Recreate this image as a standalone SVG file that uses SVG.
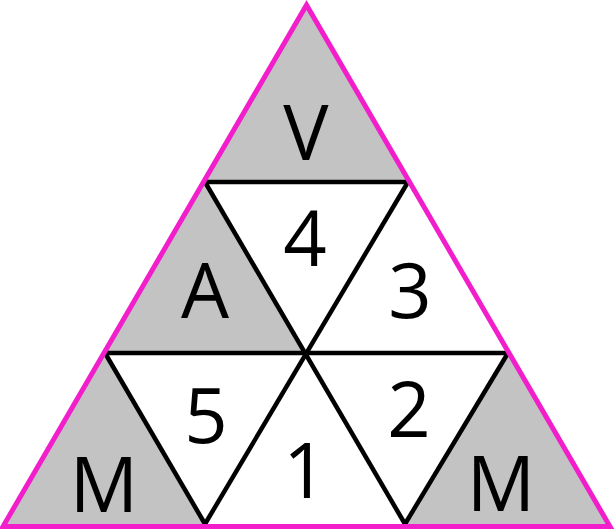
<svg xmlns="http://www.w3.org/2000/svg" width="614" height="532" viewBox="0 0 614 532">
<style>
.g{fill:#c3c3c3;stroke:none}
.w{fill:#ffffff;stroke:none}
.ln{stroke:#000;stroke-width:4.5;fill:none;stroke-linecap:butt}
.t{font-family:"Open Sans","DejaVu Sans",sans-serif;font-size:76px;fill:#000;text-anchor:middle}
</style>
<rect width="614" height="532" fill="#fff"/>
<g id="cell-V"><polygon class="g" points="306.5,7 205,182 408,182"/><text class="t" x="306" y="160">V</text></g>
<g id="cell-4"><polygon class="w" points="205,182 408,182 306.5,353"/><text class="t" x="305" y="266">4</text></g>
<g id="cell-A"><polygon class="g" points="205,182 105,353 306.5,353"/><text class="t" x="205" y="318">A</text></g>
<g id="cell-3"><polygon class="w" points="408,182 306.5,353 508,353"/><text class="t" x="410" y="318">3</text></g>
<g id="cell-M1"><polygon class="g" points="105,353 4,525 205,525"/><text class="t" x="104" y="512">M</text></g>
<g id="cell-5"><polygon class="w" points="105,353 306.5,353 205,524"/><text class="t" x="206" y="443">5</text></g>
<g id="cell-1"><polygon class="w" points="306.5,353 205,524 405,524"/><text class="t" x="305" y="498">1</text></g>
<g id="cell-2"><polygon class="w" points="306.5,353 508,353 405,524"/><text class="t" x="409" y="437">2</text></g>
<g id="cell-M2"><polygon class="g" points="508,353 405,525 609,525"/><text class="t" x="501" y="511">M</text></g>
<g id="connectors">
<line class="ln" x1="205" y1="182" x2="408" y2="182"/>
<line class="ln" x1="105" y1="353" x2="508" y2="353"/>
<line class="ln" x1="205" y1="182" x2="405" y2="524"/>
<line class="ln" x1="408" y1="182" x2="205" y2="524"/>
<line class="ln" x1="105" y1="353" x2="205" y2="524"/>
<line class="ln" x1="508" y1="353" x2="405" y2="524"/>
<polygon points="306.5,5 3,526.5 610,526.5" fill="none" stroke="#f21ecb" stroke-width="5" stroke-linejoin="miter"/>
</g>
</svg>
